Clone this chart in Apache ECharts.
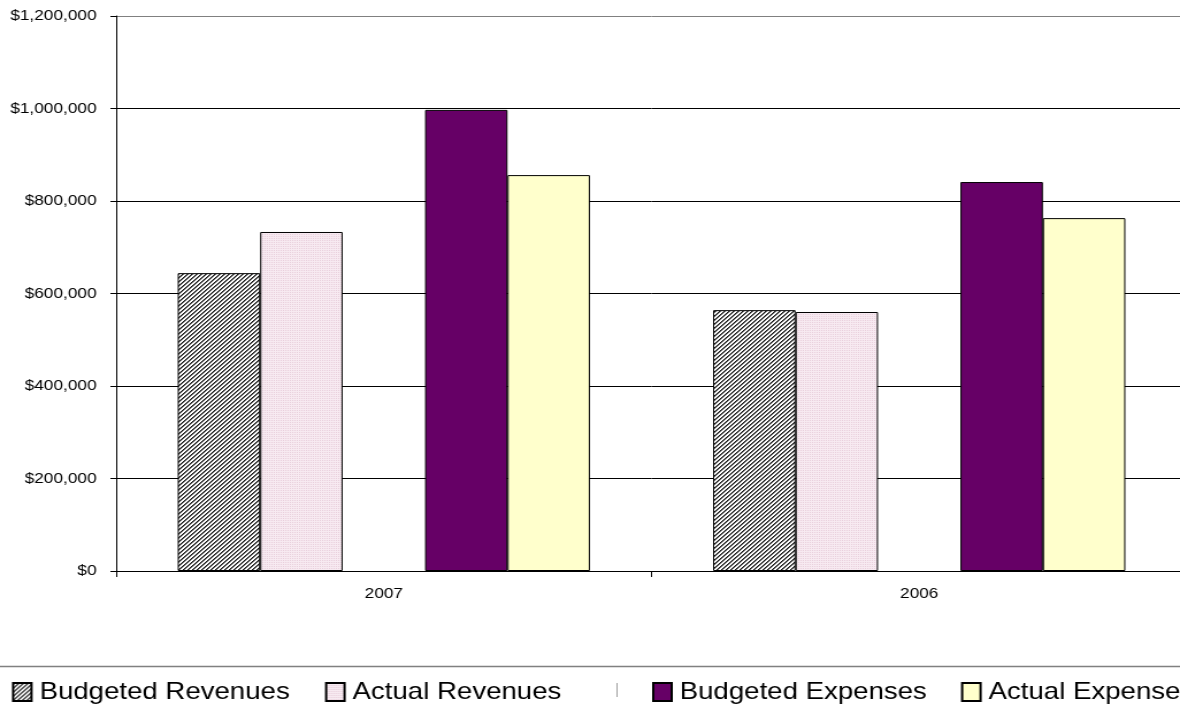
<!DOCTYPE html>
<html>
<head>
<meta charset="utf-8">
<title>Budget vs Actual</title>
<script src="https://cdn.jsdelivr.net/npm/echarts@6/dist/echarts.min.js"></script>
<style>
  html, body { margin: 0; padding: 0; background: #fff; overflow: hidden; }
  /* the chart is laid out narrower and widened to the page, giving the wide lettering;
     it runs slightly past the right edge so the last category is cut off there */
  #chart { width: 1032px; height: 709px; transform: scaleX(1.15010); transform-origin: 0 0; }
</style>
</head>
<body>
<div id="chart"></div>
<script>
// Fiscal years shown on the category axis
const years = ['2007', '2006'];

// Amounts in dollars per year
const budgetedRevenues = [644000, 564000];
const actualRevenues   = [733000, 560000];
const budgetedExpenses = [997000, 841000];
const actualExpenses   = [856000, 763000];

// Value axis range
const yMin = 0;
const yMax = 1200000;
const yStep = 200000;

// Diagonal hatch fill
function hatchPattern() {
  const c = document.createElement('canvas');
  c.width = 4; c.height = 4;
  const g = c.getContext('2d');
  g.fillStyle = '#ffffff';
  g.fillRect(0, 0, 4, 4);
  for (let y = 0; y < 4; y++) {
    for (let x = 0; x < 4; x++) {
      const k = (x + y) % 4;
      if (k === 0) { g.fillStyle = '#1a1a1a'; g.fillRect(x, y, 1, 1); }
      else if (k === 1) { g.fillStyle = '#6a6a6a'; g.fillRect(x, y, 1, 1); }
    }
  }
  return { image: c, repeat: 'repeat' };
}

// Fine pink dotted fill
function dotPattern() {
  const c = document.createElement('canvas');
  c.width = 2; c.height = 2;
  const g = c.getContext('2d');
  g.fillStyle = '#f7eaf1';
  g.fillRect(0, 0, 2, 2);
  g.fillStyle = '#e9cfdc';
  g.fillRect(0, 0, 1, 1);
  return { image: c, repeat: 'repeat' };
}

const chart = echarts.init(document.getElementById('chart'), null, { renderer: 'canvas' });

const font = 'Liberation Sans, Arial, sans-serif';
const border = { borderColor: '#000', borderWidth: 1 };

function legendAt(left, name) {
  return {
    data: [name],
    left: left,
    top: 680,
    padding: 0,
    itemWidth: 16,
    itemHeight: 18,
    icon: 'rect',
    selectedMode: false,
    textStyle: { fontFamily: font, fontSize: 24, color: '#000', lineHeight: 18, padding: [0, 0, 0, 2] }
  };
}

chart.setOption({
  animation: false,
  backgroundColor: '#ffffff',
  grid: { left: 101, right: 0, top: 16, bottom: 138, containLabel: false },
  xAxis: {
    type: 'category',
    data: years,
    axisLine: { lineStyle: { color: '#000', width: 1 } },
    axisTick: { show: true, length: 6, lineStyle: { color: '#000' } },
    axisLabel: { fontFamily: font, fontSize: 15, color: '#000', margin: 15 }
  },
  yAxis: {
    type: 'value',
    min: yMin,
    max: yMax,
    interval: yStep,
    axisLine: { show: true, lineStyle: { color: '#000', width: 1 } },
    axisTick: { show: true, length: 5, lineStyle: { color: '#000' } },
    axisLabel: {
      fontFamily: font, fontSize: 15, color: '#000', margin: 17,
      formatter: v => '$' + v.toLocaleString('en-US')
    },
    splitLine: {
      show: true,
      lineStyle: { color: ['#000', '#000', '#000', '#000', '#000', '#000', '#808080'], width: 1 }
    }
  },
  legend: [
    legendAt(10.4, 'Budgeted Revenues'),
    legendAt(282.6, 'Actual Revenues'),
    legendAt(567, 'Budgeted Expenses'),
    legendAt(835.6, 'Actual Expenses')
  ],
  graphic: [
    { type: 'line', shape: { x1: 0, y1: 666.5, x2: 1032, y2: 666.5 }, style: { stroke: '#808080', lineWidth: 1.5 } },
    { type: 'line', shape: { x1: 536.5, y1: 683, x2: 536.5, y2: 697 }, style: { stroke: '#a0a0a0', lineWidth: 1 } }
  ],
  series: [
    { name: 'Budgeted Revenues', type: 'bar', data: budgetedRevenues,
      barGap: '0%', barCategoryGap: '23%',
      itemStyle: Object.assign({ color: hatchPattern() }, border) },
    { name: 'Actual Revenues', type: 'bar', data: actualRevenues,
      itemStyle: Object.assign({ color: dotPattern() }, border) },
    // empty slot that keeps the gap between revenue and expense bars
    { name: 'spacer', type: 'bar', data: [null, null],
      itemStyle: { color: 'rgba(0,0,0,0)' } },
    { name: 'Budgeted Expenses', type: 'bar', data: budgetedExpenses,
      itemStyle: Object.assign({ color: '#660066' }, border) },
    { name: 'Actual Expenses', type: 'bar', data: actualExpenses,
      itemStyle: Object.assign({ color: '#ffffcc' }, border) }
  ]
});
</script>
</body>
</html>
